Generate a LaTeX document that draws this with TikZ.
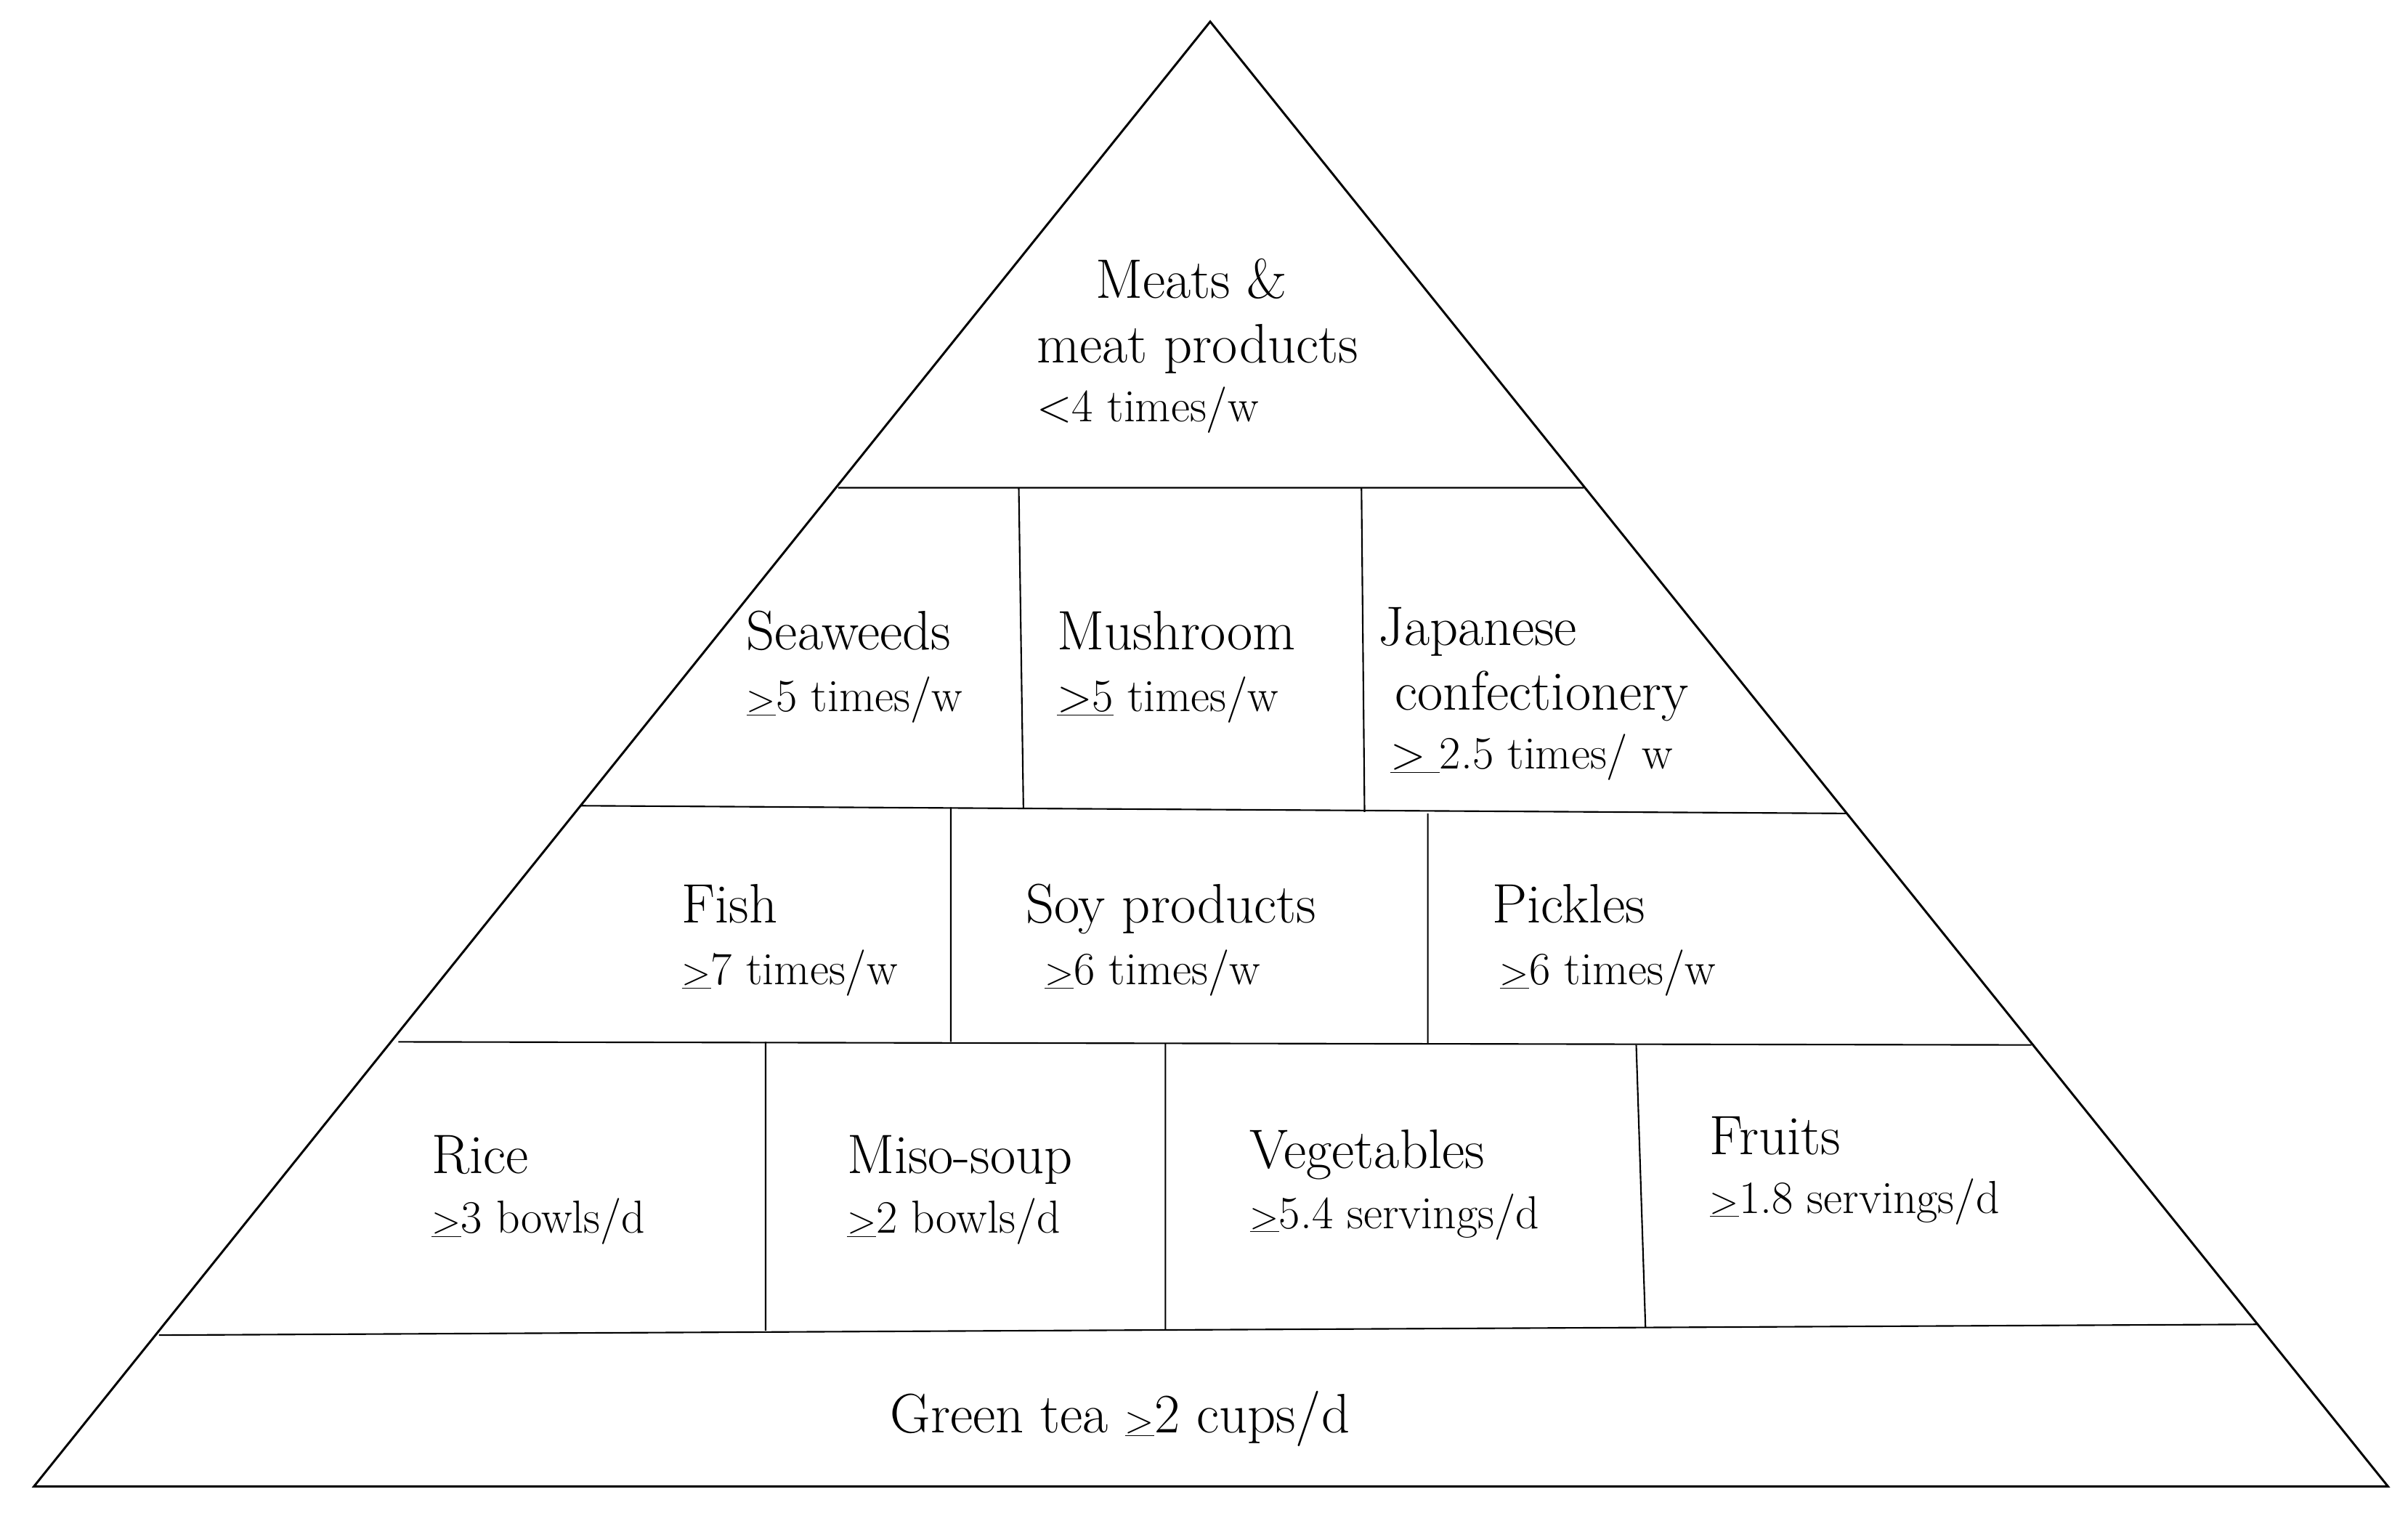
\documentclass[tikz,border=0pt]{standalone}
\begin{document}
\begin{tikzpicture}[x=1pt,y=-1pt,line width=1.4pt,
  big/.style={anchor=base west,inner sep=0pt,font=\fontsize{36}{40}\selectfont},
  small/.style={anchor=base west,inner sep=0pt,font=\fontsize{30}{34}\selectfont}]
\useasboundingbox (0,0) rectangle (1560,980);
\coordinate (A) at (784,14); \coordinate (L) at (22,963); \coordinate (R) at (1547,963);
\draw (A) -- (L) -- (R) -- cycle;
\coordinate (h1a) at (543,316); \coordinate (h1b) at (1026,316);
\coordinate (h2a) at (376,522); \coordinate (h2b) at (1196,527);
\coordinate (h3a) at (258,675); \coordinate (h3b) at (1316,677);
\coordinate (h4a) at (103,865); \coordinate (h4b) at (1463,858);
\draw[line width=1pt] (h1a)--(h1b) (h2a)--(h2b) (h3a)--(h3b) (h4a)--(h4b);
\draw[line width=1pt] (660,316)--(663,524) (882,316)--(884,526)
 (616,523)--(616,675) (925,527)--(925,676)
 (496,675)--(496,862) (755,676)--(755,862) (1060,677)--(1066,860);
\newcommand{\gequ}{$\underline{>}$}
\node[big] (m1) at (709,193) {Meats \&};
\node[big] (m2) at (671,235) {meat products};
\node[small] (m3) at (671,273) {<4 times/w};
\node[big] (s1) at (483,421) {Seaweeds};
\node[small] (s2) at (483,461) {\gequ5 times/w};
\node[big] (u1) at (684,421) {Mushroom};
\node[small] (u2) at (684,461) {\underline{>5} times/w};
\node[big] (j1) at (892,418) {Japanese};
\node[big] (j2) at (903,460) {confectionery};
\node[small] (j3) at (900,498) {\underline{> }2.5 times/ w};
\node[big] (f1) at (441,598) {Fish};
\node[small] (f2) at (441,638) {\gequ7 times/w};
\node[big] (p1) at (664,598) {Soy products};
\node[small] (p2) at (676,638) {\gequ6 times/w};
\node[big] (k1) at (966,598) {Pickles};
\node[small] (k2) at (971,638) {\gequ6 times/w};
\node[big] (r1) at (279,760) {Rice};
\node[small] (r2) at (279,799) {\gequ3 bowls/d};
\node[big] (o1) at (548,760) {Miso-soup};
\node[small] (o2) at (548,799) {\gequ2 bowls/d};
\node[big] (v1) at (809,757) {Vegetables};
\node[small] (v2) at (809,796) {\gequ5.4 servings/d};
\node[big] (t1) at (1107,748) {Fruits};
\node[small] (t2) at (1107,786) {\gequ1.8 servings/d};
\node[big] (g) at (576,928) {Green tea \gequ2 cups/d};
\end{tikzpicture}
\end{document}
